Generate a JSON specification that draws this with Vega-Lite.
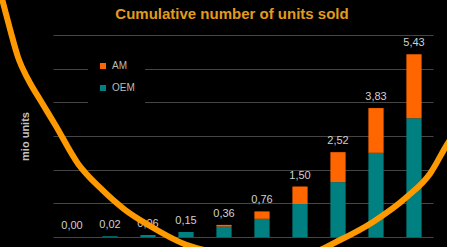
{
  "$schema": "https://vega.github.io/schema/vega-lite/v6.json",
  "width": 380,
  "height": 202,
  "autosize": "none",
  "padding": {"left": 53, "top": 35, "right": 14, "bottom": 10},
  "background": "#000000",
  "title": {
    "text": "Cumulative number of units sold",
    "color": "#e39b1e",
    "fontSize": 15,
    "fontWeight": "bold",
    "font": "Liberation Sans",
    "frame": "group",
    "offset": 0,
    "dy": 35,
    "dx": -11,
    "anchor": "middle"
  },
  "datasets": {
    "units": [
      {"period": 1, "type": "OEM", "value": 0.0},
      {"period": 1, "type": "AM", "value": 0.0},
      {"period": 2, "type": "OEM", "value": 0.02},
      {"period": 2, "type": "AM", "value": 0.0},
      {"period": 3, "type": "OEM", "value": 0.06},
      {"period": 3, "type": "AM", "value": 0.0},
      {"period": 4, "type": "OEM", "value": 0.15},
      {"period": 4, "type": "AM", "value": 0.0},
      {"period": 5, "type": "OEM", "value": 0.31},
      {"period": 5, "type": "AM", "value": 0.05},
      {"period": 6, "type": "OEM", "value": 0.54},
      {"period": 6, "type": "AM", "value": 0.22},
      {"period": 7, "type": "OEM", "value": 0.98},
      {"period": 7, "type": "AM", "value": 0.52},
      {"period": 8, "type": "OEM", "value": 1.63},
      {"period": 8, "type": "AM", "value": 0.89},
      {"period": 9, "type": "OEM", "value": 2.5},
      {"period": 9, "type": "AM", "value": 1.33},
      {"period": 10, "type": "OEM", "value": 3.53},
      {"period": 10, "type": "AM", "value": 1.9}
    ],
    "arc": [
      {"ax": -1.842, "ay": 7.075},
      {"ax": -1.632, "ay": 6.179},
      {"ax": -1.421, "ay": 5.343},
      {"ax": -1.158, "ay": 4.687},
      {"ax": -0.816, "ay": 4.03},
      {"ax": -0.447, "ay": 3.343},
      {"ax": 0.158, "ay": 2.179},
      {"ax": 0.737, "ay": 1.463},
      {"ax": 1.395, "ay": 0.806},
      {"ax": 2.053, "ay": 0.328},
      {"ax": 3.026, "ay": -0.239},
      {"ax": 3.711, "ay": -0.448},
      {"ax": 4.947, "ay": -0.687},
      {"ax": 6.0, "ay": -0.597},
      {"ax": 7.053, "ay": -0.09},
      {"ax": 7.921, "ay": 0.448},
      {"ax": 8.816, "ay": 1.194},
      {"ax": 9.421, "ay": 1.881},
      {"ax": 9.868, "ay": 2.746},
      {"ax": 10.21, "ay": 3.343}
    ]
  },
  "layer": [
    {
      "data": {"name": "units"},
      "encoding": {
        "x": {
          "field": "period",
          "type": "ordinal",
          "axis": null,
          "scale": {"type": "band", "paddingInner": 0.6, "paddingOuter": 0.3}
        }
      },
      "layer": [
        {
          "mark": {"type": "bar"},
          "encoding": {
            "y": {
              "field": "value",
              "type": "quantitative",
              "aggregate": "sum",
              "stack": "zero",
              "scale": {"domain": [0, 6]},
              "axis": {
                "title": "mio units",
                "labels": false,
                "ticks": false,
                "domain": false,
                "grid": true,
                "values": [0, 1, 2, 3, 4, 5, 6],
                "gridColor": "#454545",
                "gridWidth": 1,
                "titleColor": "#c0c0c0",
                "titleFont": "Liberation Sans",
                "titleFontSize": 11,
                "titleFontWeight": "bold",
                "titlePadding": 23
              }
            },
            "color": {
              "field": "type",
              "type": "nominal",
              "scale": {"domain": ["AM", "OEM"], "range": ["#ff6600", "#008080"]},
              "legend": {
                "title": null,
                "orient": "none",
                "legendX": 35,
                "legendY": 16,
                "padding": 10,
                "fillColor": "#000000",
                "symbolType": "square",
                "symbolSize": 36,
                "symbolStrokeWidth": 0,
                "labelColor": "#bbbbbb",
                "labelFont": "Liberation Sans",
                "labelFontSize": 10,
                "labelOffset": 4,
                "rowPadding": 12
              }
            },
            "order": {"field": "type", "sort": "descending"}
          }
        },
        {
          "transform": [
            {"aggregate": [{"op": "sum", "field": "value", "as": "total"}], "groupby": ["period"]}
          ],
          "mark": {
            "type": "text",
            "baseline": "bottom",
            "dy": -6,
            "font": "Liberation Sans",
            "fontSize": 11,
            "color": "#d0d0d0"
          },
          "encoding": {
            "y": {
              "field": "total",
              "type": "quantitative",
              "axis": {
                "title": "mio units",
                "labels": false,
                "ticks": false,
                "domain": false,
                "grid": true,
                "values": [0, 1, 2, 3, 4, 5, 6],
                "gridColor": "#454545",
                "gridWidth": 1,
                "titleColor": "#c0c0c0",
                "titleFont": "Liberation Sans",
                "titleFontSize": 11,
                "titleFontWeight": "bold",
                "titlePadding": 23
              }
            },
            "text": {"field": "total", "type": "quantitative", "format": ".2f"}
          }
        }
      ]
    },
    {
      "data": {"name": "arc"},
      "mark": {
        "type": "line",
        "clip": false,
        "color": "#ff9900",
        "strokeWidth": 6,
        "interpolate": "monotone"
      },
      "encoding": {
        "x": {
          "field": "ax",
          "type": "quantitative",
          "scale": {"domain": [-0.5, 9.5], "nice": false, "zero": false},
          "axis": null
        },
        "y": {"field": "ay", "type": "quantitative", "axis": null},
        "order": {"field": "ax"}
      }
    }
  ],
  "resolve": {
    "scale": {"x": "independent"},
    "axis": {"x": "independent", "y": "independent"}
  },
  "config": {
    "view": {"stroke": null},
    "locale": {
      "number": {"decimal": ",", "thousands": ".", "grouping": [3], "currency": ["", " €"]}
    }
  }
}
